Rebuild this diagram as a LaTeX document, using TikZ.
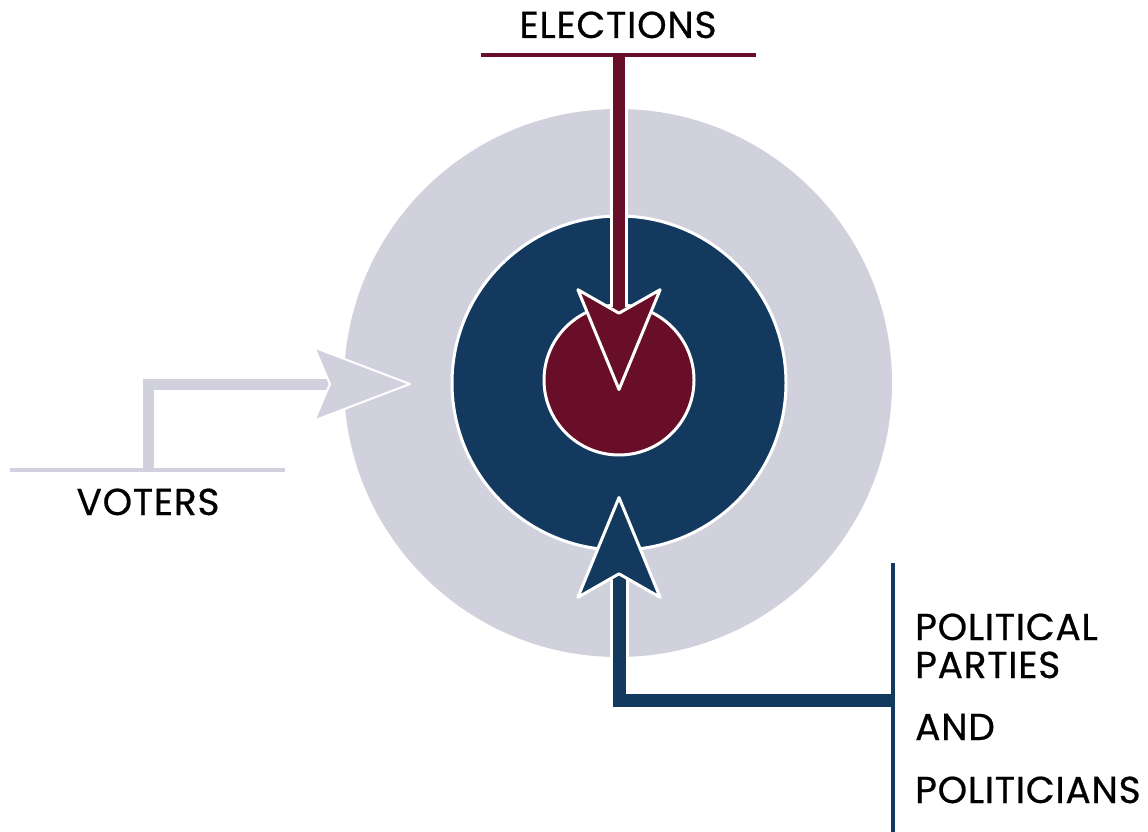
\documentclass[tikz,border=0pt]{standalone}
\usepackage{fontspec}
\setmainfont{Poppins}
\newfontfamily\labelfont{Poppins}[FakeBold=0.6, LetterSpace=2]
\usetikzlibrary{arrows.meta, calc}

\definecolor{ringgrey}{RGB}{208,209,221}
\definecolor{coreblue}{RGB}{19,58,94}
\definecolor{corered}{RGB}{104,14,40}

\tikzset{
  label text/.style={font=\labelfont\fontsize{37.5}{40}\selectfont, inner sep=0pt, text=black},
  disc/.style={circle, inner sep=0pt},
  bar/.style={line width=4pt},
  halo/.style={white, line width=#1},
  greyhead/.style={-{Stealth[length=100pt, width=76pt, inset=16pt, line width=2pt, color=white, fill=ringgrey, round]}},
  redhead/.style={-{Stealth[length=107pt, width=88pt, inset=25pt, line width=3pt, color=white, fill=corered, round]}},
  bluehead/.style={-{Stealth[length=107pt, width=88pt, inset=25pt, line width=3pt, color=white, fill=coreblue, round]}}
}

\begin{document}
\begin{tikzpicture}[x=1pt, y=-1pt]
    \useasboundingbox[fill=white] (0,0) rectangle (1148,832);

    % --- the three rings ---
    \node[disc, fill=ringgrey, minimum size=548pt] (ring) at (618,383) {};
    \node[disc, fill=coreblue, draw=white, line width=3pt, minimum size=334pt] (middle) at (619,383) {};
    \node[disc, fill=corered, draw=white, line width=3pt, minimum size=150pt] (core) at (619,380) {};

    % --- labels ---
    \node[label text, anchor=base] (elections) at (618,38) {ELECTIONS};
    \node[label text, anchor=base] (voters) at (148,515) {VOTERS};
    \node[label text, anchor=base west] (parties1) at (915,640) {POLITICAL};
    \node[label text, anchor=base west] (parties2) at (915,678) {PARTIES};
    \node[label text, anchor=base west] (parties3) at (915,740) {AND};
    \node[label text, anchor=base west] (parties4) at (915,803) {POLITICIANS};

    % --- end points of the connectors ---
    \coordinate (electL) at (481,55);
    \coordinate (electR) at (756,55);
    \coordinate (electJ) at (619,55);
    \coordinate (electTip) at (619,391);

    \coordinate (voteL) at (10,470);
    \coordinate (voteR) at (285,470);
    \coordinate (voteJ) at (148,470);
    \coordinate (voteTip) at (411,384);

    \coordinate (partyT) at (893,563);
    \coordinate (partyB) at (893,832);
    \coordinate (partyJ) at (893,700);
    \coordinate (partyTip) at (619,496);

    % white edges under the shafts
    \draw[halo=18pt, shorten >=84pt] (electJ) -- (electTip);
    \draw[halo=19pt, shorten >=84pt] (partyJ) -| (partyTip);

    % --- the arrows ---
    \draw[ringgrey, line width=11pt, greyhead] (voteJ) |- (voteTip);
    \draw[corered, line width=12pt, redhead] (electJ) -- (electTip);
    \draw[coreblue, line width=13pt, bluehead] (partyJ) -| (partyTip);

    % --- the bars ---
    \draw[ringgrey, bar] (voteL) -- (voteR);
    \draw[corered, bar] (electL) -- (electR);
    \draw[coreblue, bar] (partyT) -- (partyB);
\end{tikzpicture}
\end{document}
